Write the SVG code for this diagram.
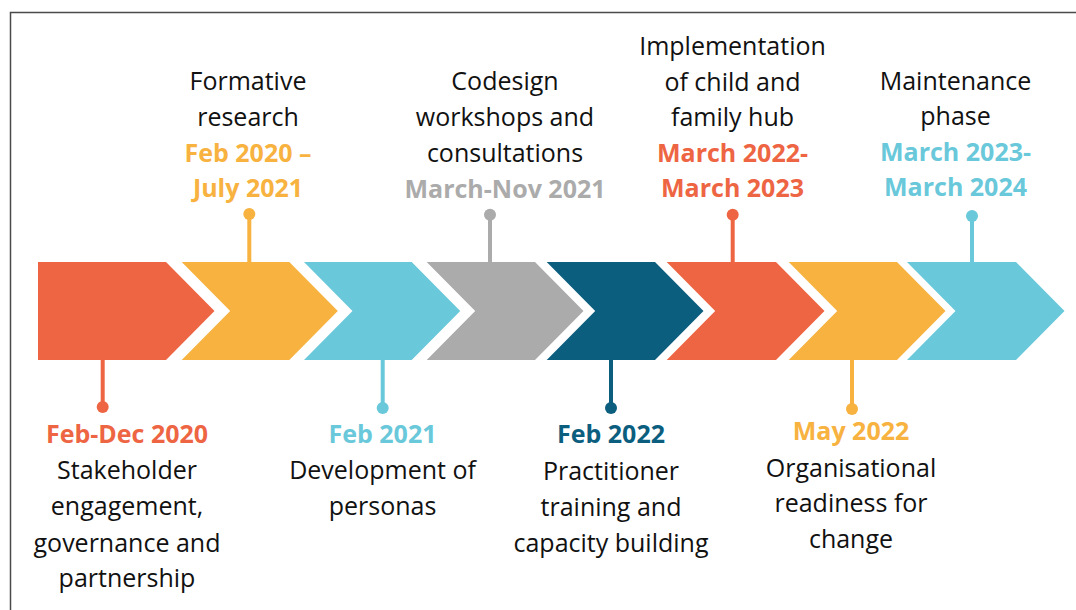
<svg xmlns="http://www.w3.org/2000/svg" width="1076" height="610" viewBox="0 0 1076 610">
  <style>
    .lbl { font-family: "Open Sans", "Liberation Sans", sans-serif; font-size: 25px; text-anchor: middle; fill: #111111; }
    .date { font-weight: 700; }
    .red { fill: #EE6543; }
    .org { fill: #F7B23F; }
    .cyn { fill: #69C8DA; }
    .gry { fill: #ABABAB; }
    .blu { fill: #0C5E7F; }
    .stem { stroke-width: 4; fill: none; }
  </style>
  <rect x="0" y="0" width="1076" height="610" fill="#FFFFFF"/>
  <!-- frame: only the top and left edges fall inside the canvas -->
  <path d="M1080 12.5 H10.5 V615" fill="none" stroke="#4A4A4A" stroke-width="1.5"/>

  <!-- stems and dots linking each phase to its label -->
  <g id="connectors">
    <line class="stem" x1="102.7" y1="360" x2="102.7" y2="407" stroke="#EE6543"/>
    <circle cx="102.7" cy="407" r="6" class="red"/>
    <line class="stem" x1="249.3" y1="262" x2="249.3" y2="214" stroke="#F7B23F"/>
    <circle cx="249.3" cy="214" r="6" class="org"/>
    <line class="stem" x1="382.7" y1="360" x2="382.7" y2="408" stroke="#69C8DA"/>
    <circle cx="382.7" cy="408" r="6" class="cyn"/>
    <line class="stem" x1="490" y1="262" x2="490" y2="214.7" stroke="#ABABAB"/>
    <circle cx="490" cy="214.7" r="6" class="gry"/>
    <line class="stem" x1="611" y1="360" x2="611" y2="408" stroke="#0C5E7F"/>
    <circle cx="611" cy="408" r="6" class="blu"/>
    <line class="stem" x1="732.7" y1="262" x2="732.7" y2="214.7" stroke="#EE6543"/>
    <circle cx="732.7" cy="214.7" r="6" class="red"/>
    <line class="stem" x1="852" y1="360" x2="852" y2="409" stroke="#F7B23F"/>
    <circle cx="852" cy="409" r="6" class="org"/>
    <line class="stem" x1="972" y1="262" x2="972" y2="216" stroke="#69C8DA"/>
    <circle cx="972" cy="216" r="6" class="cyn"/>
  </g>

  <g id="stakeholder-engagement">
    <polygon class="red" points="38,262 166,262 214.5,311 166,360 38,360"/>
    <text class="lbl date red" x="127" y="442.5">Feb-Dec 2020</text>
    <text class="lbl" x="127" y="479">Stakeholder</text>
    <text class="lbl" x="127" y="515">engagement,</text>
    <text class="lbl" x="127" y="551.5">governance and</text>
    <text class="lbl" x="127" y="587">partnership</text>
  </g>

  <g id="formative-research">
    <polygon class="org" points="181.7,262 289.3,262 337.8,311 289.3,360 181.7,360 230.2,311"/>
    <text class="lbl" x="248" y="90">Formative</text>
    <text class="lbl" x="248" y="126">research</text>
    <text class="lbl date org" x="248" y="162">Feb 2020 –</text>
    <text class="lbl date org" x="248" y="197">July 2021</text>
  </g>

  <g id="personas">
    <polygon class="cyn" points="304,262 411.7,262 460.2,311 411.7,360 304,360 352.5,311"/>
    <text class="lbl date cyn" x="382.5" y="442.5">Feb 2021</text>
    <text class="lbl" x="382.5" y="479">Development of</text>
    <text class="lbl" x="382.5" y="515">personas</text>
  </g>

  <g id="codesign">
    <polygon class="gry" points="426.7,262 535,262 583.5,311 535,360 426.7,360 475.2,311"/>
    <text class="lbl" x="505" y="90">Codesign</text>
    <text class="lbl" x="505" y="126">workshops and</text>
    <text class="lbl" x="505" y="162">consultations</text>
    <text class="lbl date gry" x="505" y="197.5">March-Nov 2021</text>
  </g>

  <g id="practitioner-training">
    <polygon class="blu" points="546.7,262 655,262 703.5,311 655,360 546.7,360 595.2,311"/>
    <text class="lbl date blu" x="611" y="443">Feb 2022</text>
    <text class="lbl" x="611" y="480">Practitioner</text>
    <text class="lbl" x="611" y="516">training and</text>
    <text class="lbl" x="611" y="552">capacity building</text>
  </g>

  <g id="hub-implementation">
    <polygon class="red" points="666.7,262 776,262 824.5,311 776,360 666.7,360 715.2,311"/>
    <text class="lbl" x="732.5" y="54.5">Implementation</text>
    <text class="lbl" x="732.5" y="90.5">of child and</text>
    <text class="lbl" x="732.5" y="126">family hub</text>
    <text class="lbl date red" x="732.5" y="162">March 2022-</text>
    <text class="lbl date red" x="732.5" y="197">March 2023</text>
  </g>

  <g id="organisational-readiness">
    <polygon class="org" points="788.7,262 897,262 945.5,311 897,360 788.7,360 837.2,311"/>
    <text class="lbl date org" x="851" y="440">May 2022</text>
    <text class="lbl" x="851" y="476.5">Organisational</text>
    <text class="lbl" x="851" y="512">readiness for</text>
    <text class="lbl" x="851" y="547.5">change</text>
  </g>

  <g id="maintenance">
    <polygon class="cyn" points="907,262 1016,262 1064.5,311 1016,360 907,360 955.5,311"/>
    <text class="lbl" x="955.5" y="89.5">Maintenance</text>
    <text class="lbl" x="955.5" y="124.5">phase</text>
    <text class="lbl date cyn" x="955.5" y="160.5">March 2023-</text>
    <text class="lbl date cyn" x="955.5" y="196">March 2024</text>
  </g>
</svg>
